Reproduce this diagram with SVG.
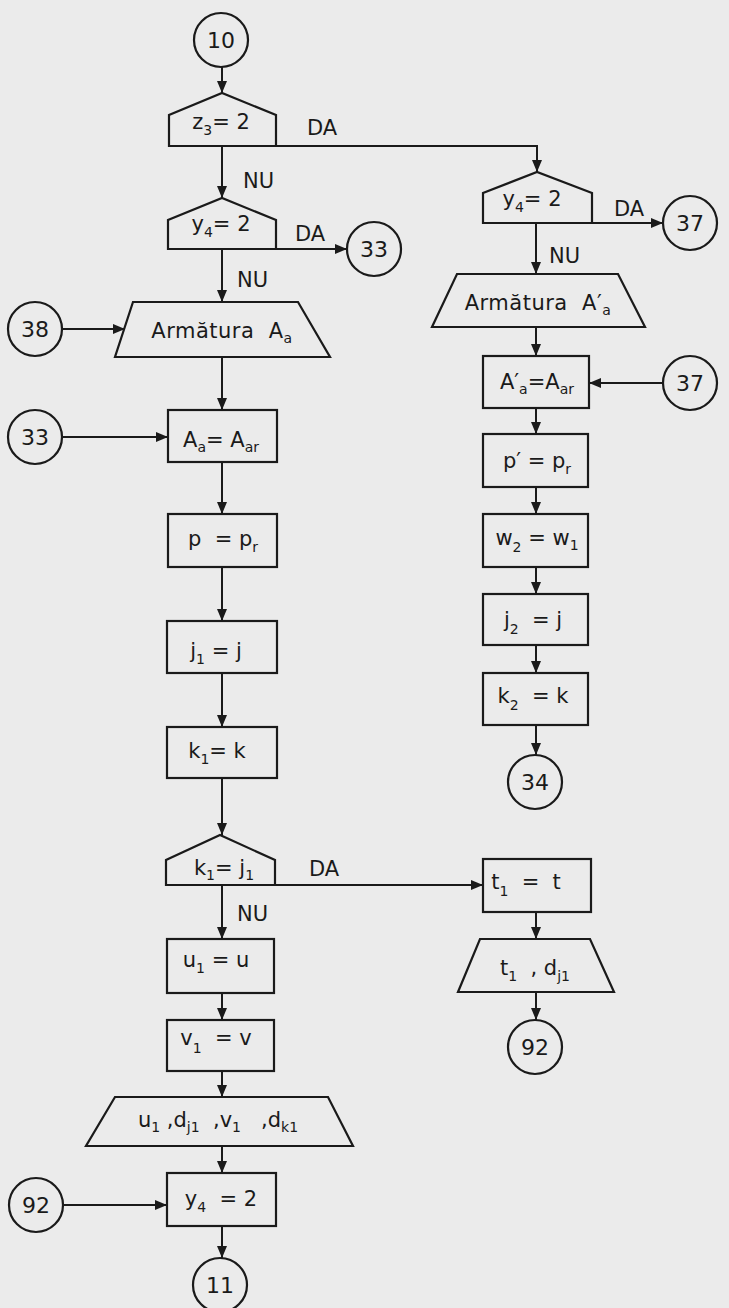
<svg xmlns="http://www.w3.org/2000/svg" width="729" height="1308" viewBox="0 0 729 1308">
<defs>
<style>
.s{fill:none;stroke:#1a1a1a;stroke-width:2.2;stroke-linejoin:miter}
.c{fill:none;stroke:#1a1a1a;stroke-width:2.2}
.ln{fill:none;stroke:#1a1a1a;stroke-width:2}
text{font-family:"DejaVu Sans","Liberation Sans",sans-serif;font-size:21px;fill:#1a1a1a}
.m{text-anchor:middle}
.n{font-size:22px}
.sb{font-size:14px}
</style>
<marker id="ar" viewBox="0 0 12 10" refX="12" refY="5" markerWidth="12" markerHeight="10" markerUnits="userSpaceOnUse" orient="auto">
<path d="M0,0 L12,5 L0,10 z" fill="#1a1a1a"/>
</marker>
</defs>
<rect width="729" height="1308" fill="#ebebeb"/>

<g id="connectors">
<path class="ln" d="M222,67 L222,93" marker-end="url(#ar)"/>
<path class="ln" d="M222,146 L222,198" marker-end="url(#ar)"/>
<path class="ln" d="M276,146 L537,146 L537,172" marker-end="url(#ar)"/>
<path class="ln" d="M276,249 L347,249" marker-end="url(#ar)"/>
<path class="ln" d="M222,249 L222,302" marker-end="url(#ar)"/>
<path class="ln" d="M62,329 L125,329" marker-end="url(#ar)"/>
<path class="ln" d="M222,357 L222,410" marker-end="url(#ar)"/>
<path class="ln" d="M62,437 L168,437" marker-end="url(#ar)"/>
<path class="ln" d="M222,462 L222,514" marker-end="url(#ar)"/>
<path class="ln" d="M222,567 L222,621" marker-end="url(#ar)"/>
<path class="ln" d="M222,673 L222,727" marker-end="url(#ar)"/>
<path class="ln" d="M222,778 L222,835" marker-end="url(#ar)"/>
<path class="ln" d="M275,885 L483,885" marker-end="url(#ar)"/>
<path class="ln" d="M222,885 L222,939" marker-end="url(#ar)"/>
<path class="ln" d="M222,993 L222,1020" marker-end="url(#ar)"/>
<path class="ln" d="M222,1071 L222,1097" marker-end="url(#ar)"/>
<path class="ln" d="M222,1146 L222,1173" marker-end="url(#ar)"/>
<path class="ln" d="M63,1205 L167,1205" marker-end="url(#ar)"/>
<path class="ln" d="M222,1226 L222,1258" marker-end="url(#ar)"/>
<path class="ln" d="M592,223 L663,223" marker-end="url(#ar)"/>
<path class="ln" d="M536,223 L536,274" marker-end="url(#ar)"/>
<path class="ln" d="M536,327 L536,356" marker-end="url(#ar)"/>
<path class="ln" d="M663,383 L589,383" marker-end="url(#ar)"/>
<path class="ln" d="M536,408 L536,434" marker-end="url(#ar)"/>
<path class="ln" d="M536,487 L536,514" marker-end="url(#ar)"/>
<path class="ln" d="M536,567 L536,594" marker-end="url(#ar)"/>
<path class="ln" d="M536,645 L536,673" marker-end="url(#ar)"/>
<path class="ln" d="M536,725 L536,755" marker-end="url(#ar)"/>
<path class="ln" d="M536,912 L536,939" marker-end="url(#ar)"/>
<path class="ln" d="M536,992 L536,1020" marker-end="url(#ar)"/>
<text x="307" y="135">DA</text>
<text x="243" y="188">NU</text>
<text x="295" y="241">DA</text>
<text x="237" y="287">NU</text>
<text x="614" y="216">DA</text>
<text x="549" y="263">NU</text>
<text x="309" y="876">DA</text>
<text x="237" y="921">NU</text>
</g>

<g id="c10"><circle class="c" cx="221" cy="40" r="27"/><text class="m n" x="221" y="48">10</text></g>
<g id="d_z3"><path class="s" d="M169,146 L169,115 L222,93 L276,115 L276,146 Z"/><text class="m" x="221" y="129" xml:space="preserve">z<tspan class="sb" dy="6">3</tspan><tspan dy="-6">= 2</tspan></text></g>
<g id="d_y4_left"><path class="s" d="M168,249 L168,220 L222,198 L276,220 L276,249 Z"/><text class="m" x="221" y="231" xml:space="preserve">y<tspan class="sb" dy="6">4</tspan><tspan dy="-6">= 2</tspan></text></g>
<g id="c33a"><circle class="c" cx="374" cy="249" r="27"/><text class="m n" x="374" y="257">33</text></g>
<g id="c38"><circle class="c" cx="35" cy="329" r="27"/><text class="m n" x="35" y="337">38</text></g>
<g id="io_Aa"><path class="s" d="M133,302 L298,302 L330,357 L115,357 Z"/><text class="m" x="222" y="338" xml:space="preserve" letter-spacing="0.5">Armătura  A<tspan class="sb" dy="5">a</tspan></text></g>
<g id="c33b"><circle class="c" cx="35" cy="437" r="27"/><text class="m n" x="35" y="445">33</text></g>
<g id="b_Aa"><rect class="s" x="168" y="410" width="109" height="52"/><text class="m" x="221" y="447" xml:space="preserve">A<tspan class="sb" dy="5">a</tspan><tspan dy="-5">= A</tspan><tspan class="sb" dy="5">ar</tspan></text></g>
<g id="b_p"><rect class="s" x="168" y="514" width="109" height="53"/><text class="m" x="223" y="546" xml:space="preserve">p  = p<tspan class="sb" dy="6">r</tspan></text></g>
<g id="b_j1"><rect class="s" x="167" y="621" width="110" height="52"/><text class="m" x="216" y="658" xml:space="preserve">j<tspan class="sb" dy="6">1</tspan><tspan dy="-6"> = j</tspan></text></g>
<g id="b_k1"><rect class="s" x="167" y="727" width="110" height="51"/><text class="m" x="217" y="758" xml:space="preserve">k<tspan class="sb" dy="6">1</tspan><tspan dy="-6">= k</tspan></text></g>
<g id="d_k1j1"><path class="s" d="M166,885 L166,860 L220,835 L275,860 L275,885 Z"/><text class="m" x="224" y="875" xml:space="preserve">k<tspan class="sb" dy="5">1</tspan><tspan dy="-5">= j</tspan><tspan class="sb" dy="5">1</tspan></text></g>
<g id="b_u1"><rect class="s" x="167" y="939" width="107" height="54"/><text class="m" x="216" y="967" xml:space="preserve">u<tspan class="sb" dy="6">1</tspan><tspan dy="-6"> = u</tspan></text></g>
<g id="b_v1"><rect class="s" x="167" y="1020" width="107" height="51"/><text class="m" x="216" y="1045" xml:space="preserve">v<tspan class="sb" dy="8">1</tspan><tspan dy="-8">  = v</tspan></text></g>
<g id="io_out1"><path class="s" d="M115,1097 L328,1097 L353,1146 L86,1146 Z"/><text class="m" x="218" y="1127" xml:space="preserve">u<tspan class="sb" dy="5">1</tspan><tspan dy="-5"> ,d</tspan><tspan class="sb" dy="5">j1</tspan><tspan dy="-5">  ,v</tspan><tspan class="sb" dy="5">1</tspan><tspan dy="-5">   ,d</tspan><tspan class="sb" dy="5">k1</tspan></text></g>
<g id="b_y4"><rect class="s" x="167" y="1173" width="109" height="53"/><text class="m" x="221" y="1206" xml:space="preserve">y<tspan class="sb" dy="6">4</tspan><tspan dy="-6">  = 2</tspan></text></g>
<g id="c92a"><circle class="c" cx="36" cy="1205" r="27"/><text class="m n" x="36" y="1213">92</text></g>
<g id="c11"><circle class="c" cx="220" cy="1285" r="27"/><text class="m n" x="220" y="1293">11</text></g>

<g id="d_y4_right"><path class="s" d="M483,223 L483,193 L537,172 L592,193 L592,223 Z"/><text class="m" x="532" y="206" xml:space="preserve">y<tspan class="sb" dy="6">4</tspan><tspan dy="-6">= 2</tspan></text></g>
<g id="c37a"><circle class="c" cx="690" cy="223" r="27"/><text class="m n" x="690" y="231">37</text></g>
<g id="io_A2"><path class="s" d="M457,274 L618,274 L645,327 L432,327 Z"/><text class="m" x="538" y="310" xml:space="preserve" letter-spacing="0.5">Armătura  A′<tspan class="sb" dy="5">a</tspan></text></g>
<g id="b_A2"><rect class="s" x="483" y="356" width="106" height="52"/><text class="m" x="537" y="389" xml:space="preserve">A′<tspan class="sb" dy="5">a</tspan><tspan dy="-5">=A</tspan><tspan class="sb" dy="5">ar</tspan></text></g>
<g id="c37b"><circle class="c" cx="690" cy="383" r="27"/><text class="m n" x="690" y="391">37</text></g>
<g id="b_p2"><rect class="s" x="483" y="434" width="105" height="53"/><text class="m" x="537" y="468" xml:space="preserve">p′ = p<tspan class="sb" dy="6">r</tspan></text></g>
<g id="b_w2"><rect class="s" x="483" y="514" width="105" height="53"/><text class="m" x="537" y="545" xml:space="preserve">w<tspan class="sb" dy="7">2</tspan><tspan dy="-7"> = w</tspan><tspan class="sb" dy="5">1</tspan></text></g>
<g id="b_j2"><rect class="s" x="483" y="594" width="105" height="51"/><text class="m" x="533" y="627" xml:space="preserve">j<tspan class="sb" dy="7">2</tspan><tspan dy="-7">  = j</tspan></text></g>
<g id="b_k2"><rect class="s" x="483" y="673" width="105" height="52"/><text class="m" x="533" y="703" xml:space="preserve">k<tspan class="sb" dy="7">2</tspan><tspan dy="-7">  = k</tspan></text></g>
<g id="c34"><circle class="c" cx="535" cy="782" r="27"/><text class="m n" x="535" y="790">34</text></g>
<g id="b_t1"><rect class="s" x="483" y="859" width="108" height="53"/><text class="m" x="526" y="889" xml:space="preserve">t<tspan class="sb" dy="7">1</tspan><tspan dy="-7">  =  t</tspan></text></g>
<g id="io_out2"><path class="s" d="M480,939 L590,939 L614,992 L458,992 Z"/><text class="m" x="535" y="975" xml:space="preserve">t<tspan class="sb" dy="6">1</tspan><tspan dy="-6">  , d</tspan><tspan class="sb" dy="6">j1</tspan></text></g>
<g id="c92b"><circle class="c" cx="535" cy="1047" r="27"/><text class="m n" x="535" y="1055">92</text></g>
</svg>
